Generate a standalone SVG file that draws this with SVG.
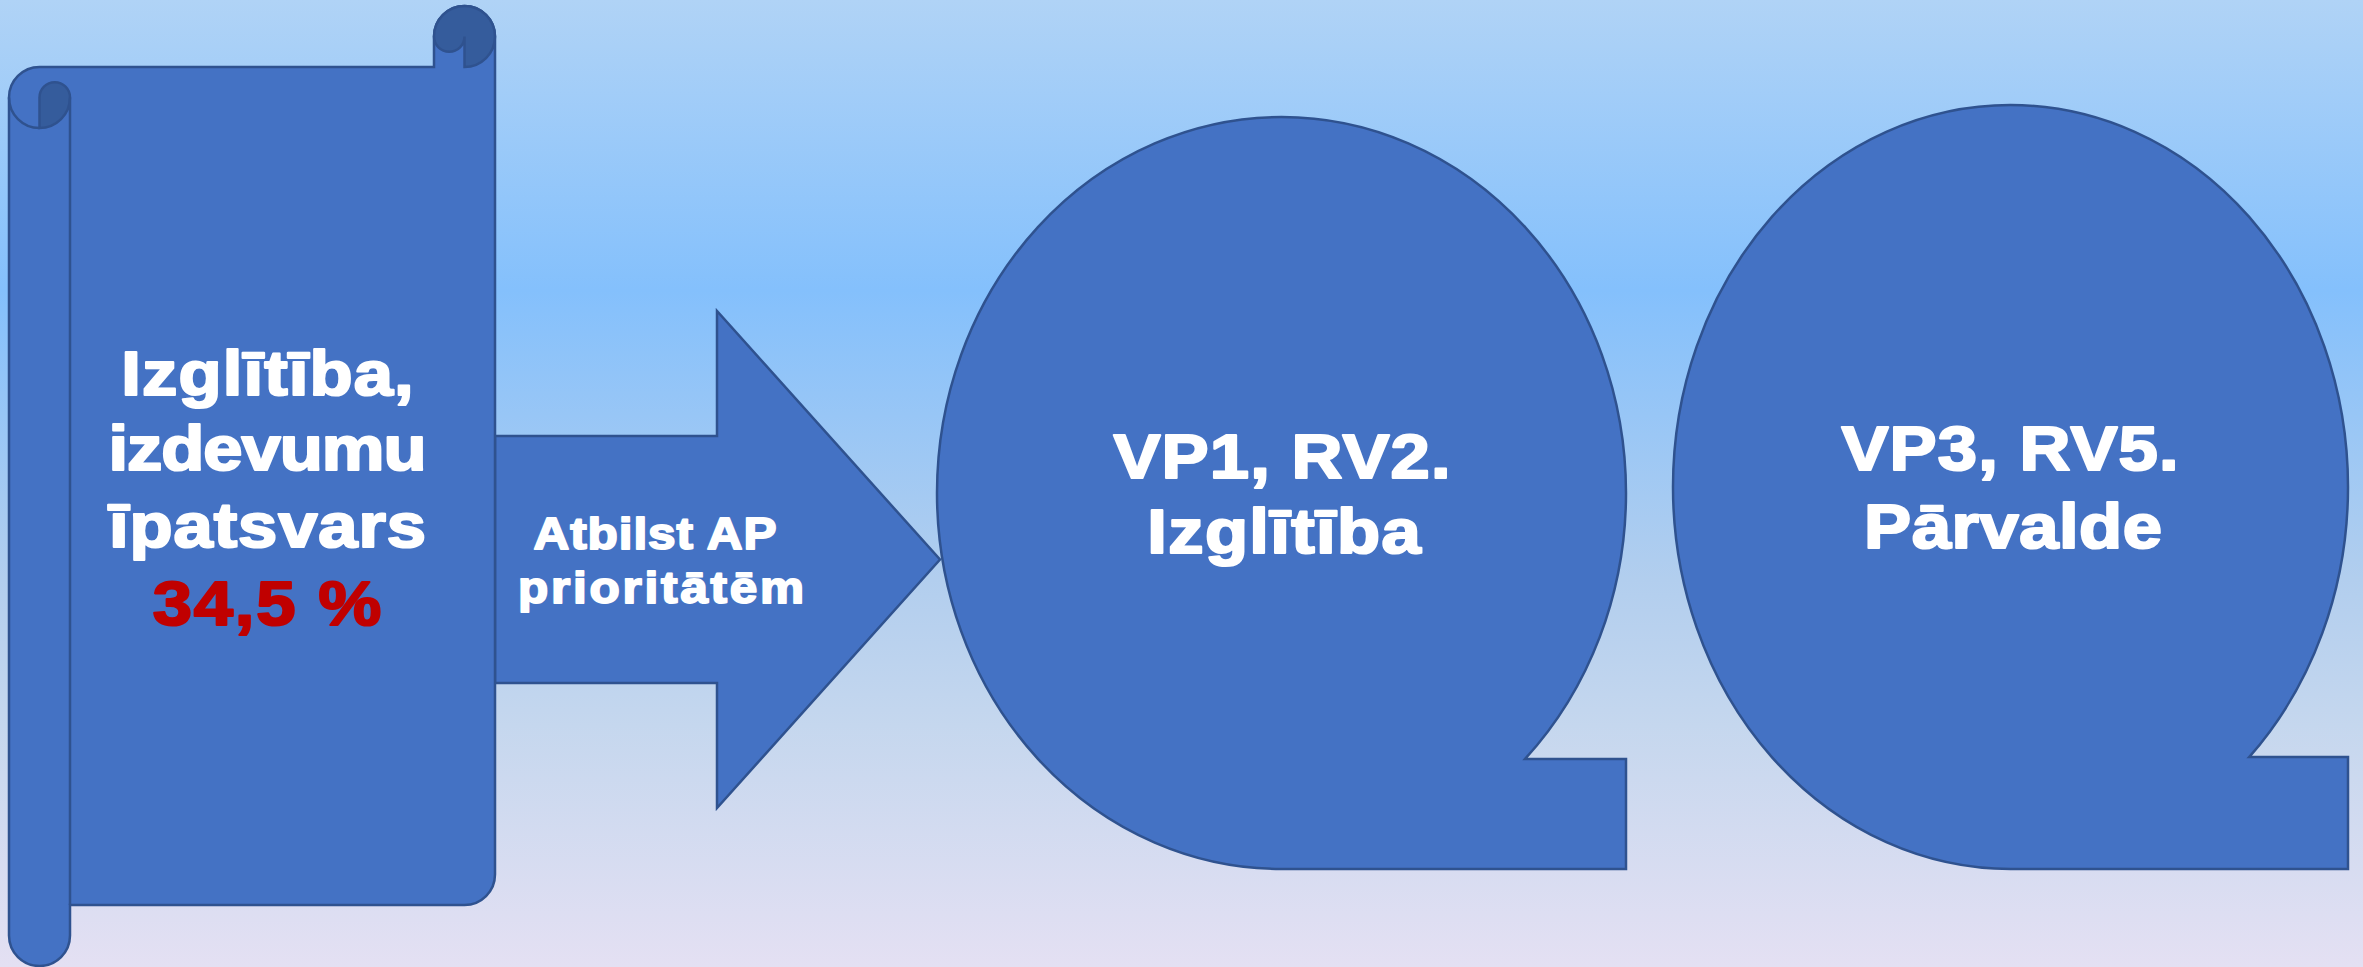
<svg xmlns="http://www.w3.org/2000/svg" width="2363" height="967" viewBox="0 0 2363 967">
  <defs>
    <linearGradient id="bg" x1="0" y1="0" x2="0" y2="1">
      <stop offset="0" stop-color="#B0D3F6"/>
      <stop offset="0.3" stop-color="#84C0FC"/>
      <stop offset="0.6" stop-color="#B2CEEE"/>
      <stop offset="0.75" stop-color="#C5D7EE"/>
      <stop offset="1" stop-color="#E4E0F3"/>
    </linearGradient>
  </defs>
  <style>
    .shape { fill: #4472C4; stroke: #2F528F; stroke-width: 2.5; stroke-linejoin: miter; }
    .curl { fill: #355C9C; stroke: #2F528F; stroke-width: 2.5; }
    .line { fill: none; stroke: #2F528F; stroke-width: 2.5; }
    .t { font-family: "Liberation Sans", Arial, sans-serif; font-weight: bold; fill: #FFFFFF; stroke: #FFFFFF; stroke-width: 2.2; stroke-linejoin: round; text-anchor: middle; }
    .big { font-size: 63px; }
    .mid { font-size: 45px; stroke-width: 1.9; }
    .red { fill: #C00000; stroke: #C00000; }
  </style>
  <rect x="0" y="0" width="2363" height="967" fill="url(#bg)"/>

  <g id="connectors">
    <g id="arrow">
      <path class="shape" d="M 495,436 L 717,436 L 717,311 L 940,559.5 L 717,808 L 717,683 L 495,683 Z"/>
      <text class="t mid" transform="translate(655,549) scale(1.1,1)" textLength="221">Atbilst AP</text>
      <text class="t mid" transform="translate(661,603) scale(1.1,1)" textLength="260">prioritātēm</text>
    </g>
  </g>

  <g id="scroll">
    <path class="shape" d="M 495,36.5 L 495,874.5 A 30.5 30.5 0 0 1 464.5,905 L 70,905 L 70,935.5 A 30.5 30.5 0 0 1 9,935.5 L 9,97.5 A 30.5 30.5 0 0 1 39.5,67 L 434,67 L 434,36.5 A 30.5 30.5 0 0 1 495,36.5 Z"/>
    <path class="curl" d="M 464.5,67 A 30.5 30.5 0 0 0 495,36.5 A 30.5 30.5 0 0 0 434,36.5 A 15.25 15.25 0 0 0 464.5,36.5 Z"/>
    <path class="curl" d="M 39.5,128 L 39.5,97.5 A 15.25 15.25 0 0 1 70,97.5 A 30.5 30.5 0 0 1 39.5,128 Z"/>
    <path class="line" d="M 9,97.5 A 30.5 30.5 0 0 0 39.5,128 M 70,97.5 L 70,905"/>
    <text class="t big" transform="translate(267.5,395) scale(1.12,1)" textLength="261">Izglītība,</text>
    <text class="t big" transform="translate(267.5,470) scale(1.12,1)" textLength="284">izdevumu</text>
    <text class="t big" transform="translate(267.5,547) scale(1.12,1)" textLength="283">īpatsvars</text>
    <text class="t big red" transform="translate(267,625) scale(1.12,1)" textLength="204">34,5 %</text>
  </g>

  <g id="vp1">
    <path class="shape" d="M 1281.5,869 A 344.5 376 0 0 1 937,493 A 344.5 376 0 0 1 1281.5,117 A 344.5 376 0 0 1 1626,493 A 344.5 376 0 0 1 1525.1,758.9 L 1626,758.9 L 1626,869 Z"/>
    <text class="t big" transform="translate(1282,478) scale(1.12,1)" textLength="301">VP1, RV2.</text>
    <text class="t big" transform="translate(1284,553) scale(1.12,1)" textLength="244">Izglītība</text>
  </g>

  <g id="vp3">
    <path class="shape" d="M 2010.5,869 A 337.5 382 0 0 1 1673,487 A 337.5 382 0 0 1 2010.5,105 A 337.5 382 0 0 1 2348,487 A 337.5 382 0 0 1 2249.15,757.1 L 2348,757.1 L 2348,869 Z"/>
    <text class="t big" transform="translate(2010,470) scale(1.12,1)" textLength="301">VP3, RV5.</text>
    <text class="t big" transform="translate(2013,548) scale(1.12,1)" textLength="266">Pārvalde</text>
  </g>
</svg>
